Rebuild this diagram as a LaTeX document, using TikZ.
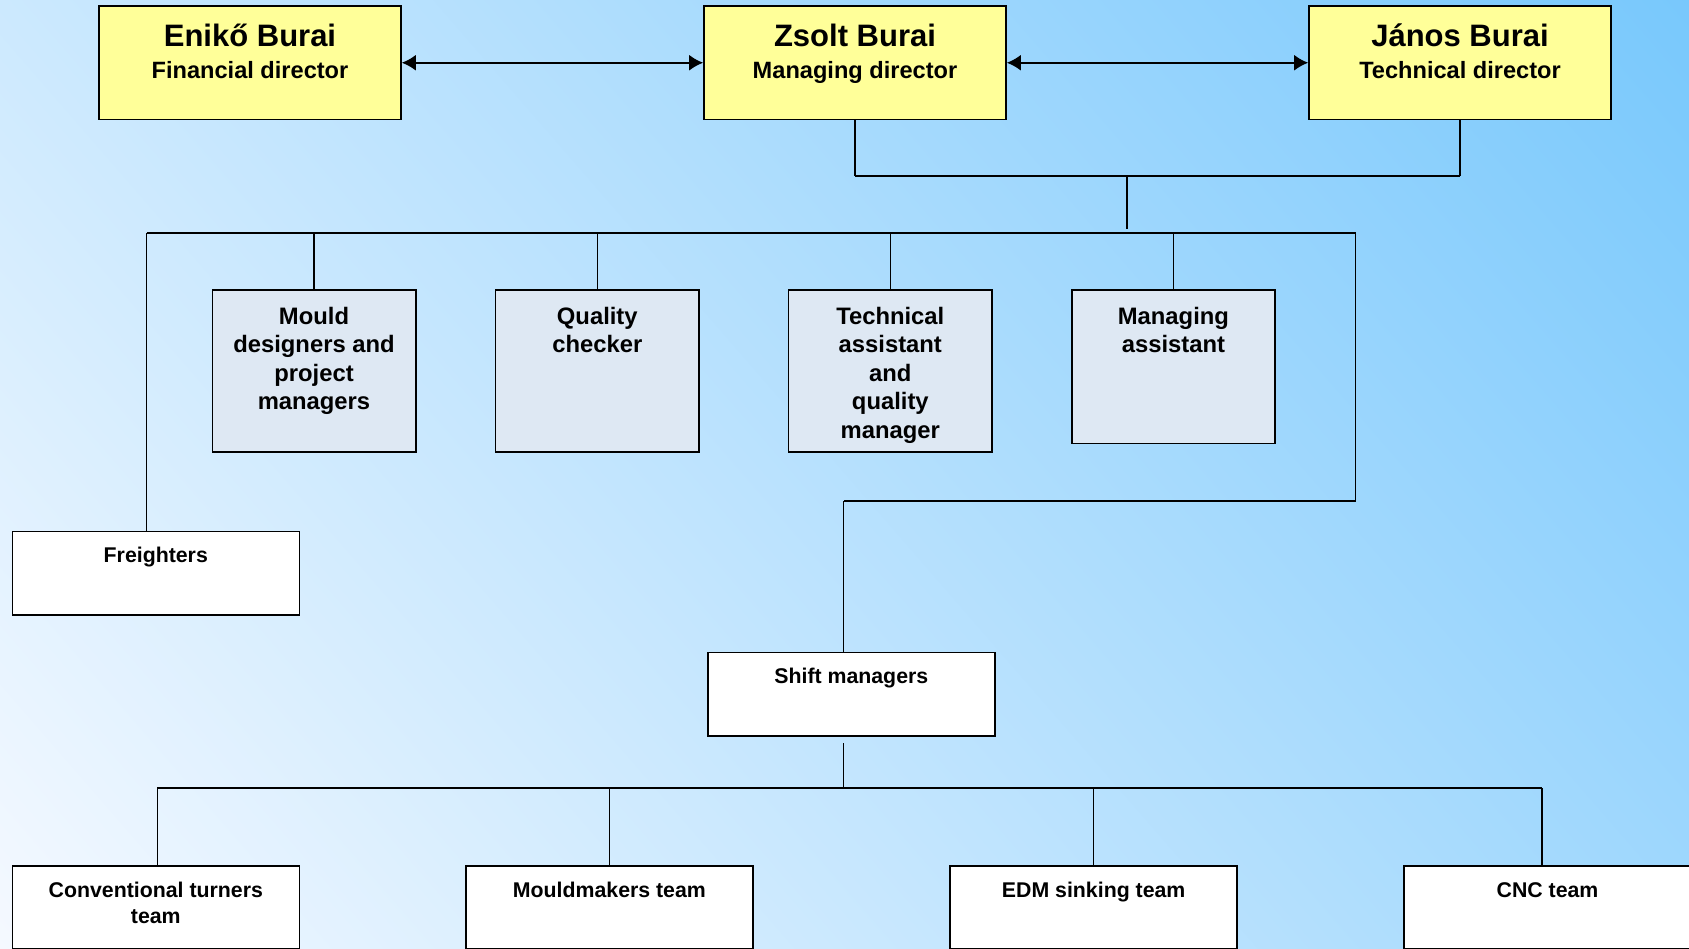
\documentclass[tikz,border=0pt]{standalone}
\usepackage{fontspec}
\setmainfont{Liberation Sans}
\usepackage{tikz}
\usetikzlibrary{arrows.meta}

\definecolor{bossyellow}{RGB}{255,255,153}
\definecolor{staffblue}{RGB}{222,232,243}
\definecolor{bglight}{RGB}{245,249,255}
\definecolor{bgdark}{RGB}{120,200,252}

\newcommand{\namefont}{\fontsize{31}{31}\selectfont}
\newcommand{\rolefont}{\fontsize{23.6}{31.6}\selectfont}
\newcommand{\stafffont}{\fontsize{23.8}{28.5}\selectfont}
\newcommand{\teamfont}{\fontsize{21.3}{25.5}\selectfont}
% width, height, first baseline, text
\newcommand{\boxtxt}[4]{\parbox[t][#2pt][t]{#1pt}{\centering\rule{0pt}{#3pt}#4}}

\tikzstyle{unit}=[draw=black, line width=1.6pt, inner sep=0pt, font=\bfseries]
\tikzstyle{director}=[unit, fill=bossyellow]
\tikzstyle{staff}=[unit, fill=staffblue]
\tikzstyle{team}=[unit, fill=white]
\tikzstyle{wire}=[line width=1.3pt]
\tikzstyle{bus}=[line width=2pt]
\tikzstyle{link}=[line width=2pt, >={Latex[length=14pt,width=16pt]}, <->]

\begin{document}
\begin{tikzpicture}[x=1pt, y=-1pt]
          \useasboundingbox (0,0) rectangle (1689,948);
          % background
          \begin{scope}
            \clip (0,0) rectangle (1689,948);
            \begin{scope}[transform canvas={rotate around={41:(844.5,474)}}]
              \shade[left color=bglight, right color=bgdark] (-105.5,-476) rectangle (1794.5,1424);
            \end{scope}
          \end{scope}
          % directors
          \node[director] (eniko) at (250,62.75){\boxtxt{302}{113.5}{40.7}{\rolefont{\namefont Enikő Burai}\\Financial director}};
          \node[director] (zsolt) at (855,62.75){\boxtxt{302}{113.5}{40.7}{\rolefont{\namefont Zsolt Burai}\\Managing director}};
          \node[director] (janos) at (1460,62.75){\boxtxt{302}{113.5}{40.7}{\rolefont{\namefont János Burai}\\Technical director}};
          % staff
          \node[staff] (mould) at (314,370.85){\boxtxt{203.4}{161.7}{34}{\stafffont Mould\\designers and\\project\\managers}};
          \node[staff] (quality) at (597.3,370.85){\boxtxt{203.4}{161.7}{34}{\stafffont Quality\\checker}};
          \node[staff] (techass) at (890.3,370.85){\boxtxt{203.4}{161.7}{34}{\stafffont Technical\\assistant\\and\\quality\\manager}};
          \node[staff] (manass) at (1173.4,366.65){\boxtxt{203.4}{153.3}{34}{\stafffont Managing\\assistant}};
          % teams
          \node[team] (freight) at (155.8,573){\boxtxt{287}{83.4}{31}{\teamfont Freighters}};
          \node[team] (shift) at (851.3,694){\boxtxt{287}{83.4}{31}{\teamfont Shift managers}};
          \node[team] (conv) at (155.8,907.4){\boxtxt{287}{83.4}{32}{\teamfont Conventional turners\\team}};
          \node[team] (mouldm) at (609.4,907.4){\boxtxt{287}{83.4}{32}{\teamfont Mouldmakers team}};
          \node[team] (edm) at (1093.7,907.4){\boxtxt{287}{83.4}{32}{\teamfont EDM sinking team}};
          \node[team] (cnc) at (1547.5,907.4){\boxtxt{287}{83.4}{32}{\teamfont CNC team}};
          % junctions
          \coordinate (tie) at (1127,176);
          \coordinate (tiefoot) at (1127,229);
          \coordinate (staffbusL) at (146.5,233);
          \coordinate (staffbusR) at (1355.5,233);
          \coordinate (shiftbusR) at (1355.5,501);
          \coordinate (shiftbusL) at (843.5,501);
          \coordinate (shiftfoot) at (843.5,743);
          \coordinate (teambus) at (843.5,788);
          \coordinate (teambusL) at (157.3,788);
          \coordinate (teambusR) at (1542,788);
          % connectors
          \draw[link](eniko) -- (zsolt);
          \draw[link](zsolt) -- (janos);
          \draw[wire](zsolt.south) -- (zsolt.south |- tie);
          \draw[wire](janos.south) -- (janos.south |- tie);
          \draw[bus](zsolt.south |- tie) -- (janos.south |- tie);
          \draw[wire](tie) -- (tiefoot);
          \draw[bus](staffbusL) -- (staffbusR);
          \foreach \n in {mould,quality,techass,manass}
            \draw[wire](\n.north |- staffbusL) -- (\n.north);
          \draw[wire](staffbusL) -- (staffbusL |- freight.north);
          \draw[wire](staffbusR) -- (shiftbusR);
          \draw[bus](shiftbusR) -- (shiftbusL);
          \draw[wire](shiftbusL) -- (shiftbusL |- shift.north);
          \draw[wire](shiftfoot) -- (teambus);
          \draw[bus](teambusL) -- (teambusR);
          \draw[wire](teambusL) -- (teambusL |- conv.north);
          \draw[wire](mouldm.north |- teambus) -- (mouldm.north);
          \draw[wire](edm.north |- teambus) -- (edm.north);
          \draw[wire](teambusR) -- (teambusR |- cnc.north);
        \end{tikzpicture}
\end{document}
